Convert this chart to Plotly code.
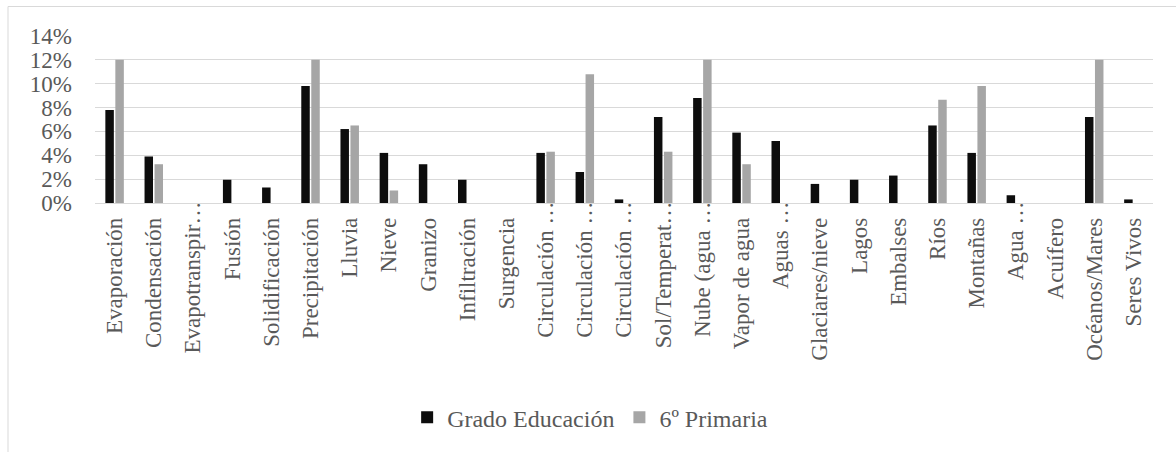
import plotly.graph_objects as go

# Water-cycle concepts mentioned, share of responses (%) per group
categories = [
    "Evaporación", "Condensación", "Evapotranspir…", "Fusión", "Solidificación",
    "Precipitación", "Lluvia", "Nieve", "Granizo", "Infiltración", "Surgencia",
    "Circulación …", "Circulación …", "Circulación …", "Sol/Temperat…",
    "Nube (agua …", "Vapor de agua", "Aguas …", "Glaciares/nieve", "Lagos",
    "Embalses", "Ríos", "Montañas", "Agua …", "Acuífero", "Océanos/Mares",
    "Seres Vivos",
]
grado_educacion = [
    7.8, 3.9, 0, 1.95, 1.3, 9.8, 6.2, 4.2, 3.25, 1.95, 0,
    4.2, 2.6, 0.3, 7.2, 8.8, 5.9, 5.2, 1.6, 1.95, 2.3,
    6.5, 4.2, 0.65, 0, 7.2, 0.3,
]
sexto_primaria = [
    12, 3.25, 0, 0, 0, 12, 6.5, 1.05, 0, 0, 0,
    4.3, 10.8, 0, 4.3, 12, 3.25, 0, 0, 0, 0,
    8.65, 9.8, 0, 0, 12, 0,
]
y_ticks = [0, 2, 4, 6, 8, 10, 12, 14]

FONT = "Liberation Serif, DejaVu Serif, serif"
TXT = "#595959"
GRID = "#d9d9d9"

positions = list(range(len(categories)))

# labels that end in an ellipsis overhang toward the axis; pad the others
tick_text = [c if c.endswith("…") else c + "\u2002\u2009" for c in categories]

fig = go.Figure()
fig.add_trace(go.Bar(x=positions, y=grado_educacion, name="Grado Educación",
                     marker=dict(color="#0d0d0d", line=dict(width=0))))
fig.add_trace(go.Bar(x=positions, y=sexto_primaria, name="6º Primaria",
                     marker=dict(color="#a6a6a6", line=dict(width=0))))

fig.update_layout(
    width=1176, height=452,
    margin=dict(l=95, r=23, t=36, b=249, autoexpand=False),
    paper_bgcolor="white", plot_bgcolor="white",
    barmode="group", bargap=0.49, bargroupgap=0.15,
    font=dict(family=FONT, color=TXT, size=23),
    showlegend=True,
    legend=dict(orientation="h", x=0.468, xanchor="center", y=-1.285, yanchor="middle",
                font=dict(family=FONT, size=24, color=TXT),
                itemwidth=30, traceorder="normal", bgcolor="rgba(0,0,0,0)"),
    shapes=[
        dict(type="line", xref="paper", yref="paper", x0=(8 - 95) / 1058, x1=1.1,
             y0=(203 - 6.5) / 167, y1=(203 - 6.5) / 167,
             line=dict(color=GRID, width=1)),
        dict(type="line", xref="paper", yref="paper", x0=(8 - 95) / 1058, x1=(8 - 95) / 1058,
             y0=(203 - 6.5) / 167, y1=-1.6,
             line=dict(color=GRID, width=1)),
    ],
)

fig.update_xaxes(
    range=[-0.5, len(categories) - 0.5],
    tickmode="array", tickvals=positions, ticktext=tick_text,
    tickangle=-90, ticks="", showgrid=False, zeroline=False,
    showline=False, tickfont=dict(family=FONT, size=23, color=TXT),
    ticklabelstandoff=-7, fixedrange=True,
)
fig.update_yaxes(
    range=[0, 14], tickmode="array", tickvals=y_ticks,
    ticktext=[f"{v}%" for v in y_ticks],
    showgrid=True, gridcolor=GRID, gridwidth=1.3,
    zeroline=True, zerolinecolor=GRID, zerolinewidth=1.3,
    showline=False, ticks="", ticklabelstandoff=22,
    tickfont=dict(family=FONT, size=23, color=TXT), fixedrange=True,
)

fig.write_html("out.html")
